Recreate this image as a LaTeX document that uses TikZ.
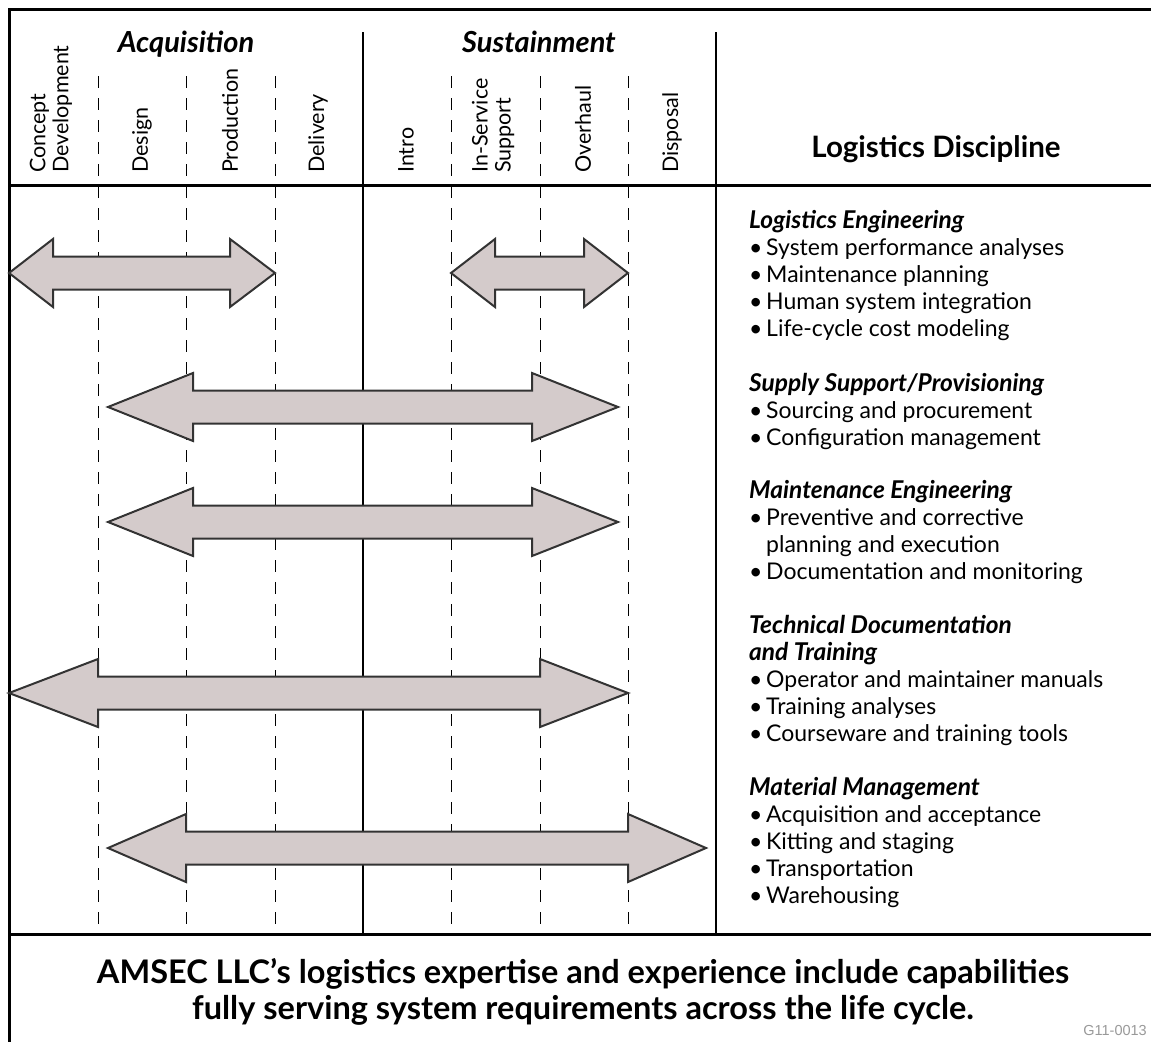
\documentclass[tikz,border=0pt]{standalone}
\usepackage{fontspec}
\setmainfont{Lato}
\newfontfamily\tagfont{Liberation Sans}
\definecolor{arrowfill}{HTML}{D4CBCB}
\definecolor{arrowline}{HTML}{333333}
\newcommand{\bul}{\makebox[17pt][l]{\textbullet}}
\newcommand{\dhead}[1]{{\fontsize{24.5}{27}\selectfont\bfseries\itshape #1}}
\tikzset{
  frameline/.style={line width=3pt},
  eraline/.style={line width=2.5pt},
  phaseline/.style={line width=1pt,dash pattern=on 12pt off 10pt},
  era/.style={anchor=base,font=\fontsize{29}{32}\selectfont\bfseries\itshape},
  phase/.style={rotate=90,anchor=west,inner sep=0pt,align=left,font=\fontsize{21.5}{23}\selectfont},
  discipline/.style={anchor=base west,inner sep=0pt,align=left,font=\fontsize{23}{27}\selectfont},
  lifearrow/.style={fill=arrowfill,draw=arrowline,line width=2pt},
}

\begin{document}
\begin{tikzpicture}[x=1pt,y=-1pt]
\useasboundingbox (0,0) rectangle (1151,1042);

% frame
\draw[frameline] (1151,9) -- (9,9) -- (9,1042);
\draw[frameline] (9,185) -- (1151,185);
\draw[frameline] (9,934) -- (1151,934);
\draw[eraline] (363,32) -- (363,934);
\draw[eraline] (716,32) -- (716,934);

% phase dividers
\draw[phaseline] (98,76) -- (98,934);
\draw[phaseline] (186,76) -- (186,934);
\draw[phaseline] (275,76) -- (275,934);
\draw[phaseline] (451,76) -- (451,934);
\draw[phaseline] (540,76) -- (540,934);
\draw[phaseline] (628,76) -- (628,934);

% headers
\node[era] (acq) at (186,52) {Acquisition};
\node[era] (sus) at (539,52) {Sustainment};
\node[anchor=base,font=\fontsize{29.5}{32}\selectfont\bfseries] (disc) at (936,157) {Logistics Discipline};

\node[phase] (concept) at (51,173) {Concept\\Development};
\node[phase] (design) at (142,173) {Design};
\node[phase] (production) at (230,173) {Production};
\node[phase] (delivery) at (318,173) {Delivery};
\node[phase] (intro) at (406,173) {Intro};
\node[phase] (inservice) at (493,173) {In-Service\\Support};
\node[phase] (overhaul) at (583,173) {Overhaul};
\node[phase] (disposal) at (672,173) {Disposal};

% arrows
\draw[lifearrow] (9,273) -- (53,239) -- (53,256.5) -- (230,256.5) -- (230,239) -- (275,273)
  -- (230,307) -- (230,289.5) -- (53,289.5) -- (53,307) -- cycle;
\draw[lifearrow] (451,273) -- (495,239) -- (495,256.5) -- (584,256.5) -- (584,239) -- (628,273)
  -- (584,307) -- (584,289.5) -- (495,289.5) -- (495,307) -- cycle;
\draw[lifearrow] (108,407) -- (193,373) -- (193,390.5) -- (532,390.5) -- (532,373) -- (618,407)
  -- (532,441) -- (532,423.5) -- (193,423.5) -- (193,441) -- cycle;
\draw[lifearrow] (108,522) -- (193,488) -- (193,505.5) -- (532,505.5) -- (532,488) -- (618,522)
  -- (532,556) -- (532,538.5) -- (193,538.5) -- (193,556) -- cycle;
\draw[lifearrow] (9,693) -- (98,659) -- (98,676.5) -- (540,676.5) -- (540,659) -- (628,693)
  -- (540,727) -- (540,709.5) -- (98,709.5) -- (98,727) -- cycle;
\draw[lifearrow] (108,848) -- (186,814) -- (186,831.5) -- (628,831.5) -- (628,814) -- (706,848)
  -- (628,882) -- (628,864.5) -- (186,864.5) -- (186,882) -- cycle;

% disciplines (anchored on the last baseline)
\node[discipline] (logeng) at (749,336) {\dhead{Logistics Engineering}\\
  \bul System performance analyses\\
  \bul Maintenance planning\\
  \bul Human system integration\\
  \bul Life-cycle cost modeling};
\node[discipline] (supply) at (749,445) {\dhead{Supply Support/Provisioning}\\
  \bul Sourcing and procurement\\
  \bul Configuration management};
\node[discipline] (mainteng) at (749,579) {\dhead{Maintenance Engineering}\\
  \bul Preventive and corrective\\
  \hspace*{17pt}planning and execution\\
  \bul Documentation and monitoring};
\node[discipline] (techdoc) at (749,741) {\dhead{Technical Documentation}\\
  \dhead{and Training}\\
  \bul Operator and maintainer manuals\\
  \bul Training analyses\\
  \bul Courseware and training tools};
\node[discipline] (material) at (749,903) {\dhead{Material Management}\\
  \bul Acquisition and acceptance\\
  \bul Kitting and staging\\
  \bul Transportation\\
  \bul Warehousing};

% bottom line
\node[align=center,font=\fontsize{32.5}{36}\selectfont\bfseries] (claim) at (583,992)
  {AMSEC LLC’s logistics expertise and experience include capabilities\\
   fully serving system requirements across the life cycle.};
\node[anchor=base east,inner sep=0pt,text=black!40,font=\tagfont\fontsize{14.5}{16}\selectfont] (tag) at (1147,1035) {G11-0013};
\end{tikzpicture}
\end{document}
